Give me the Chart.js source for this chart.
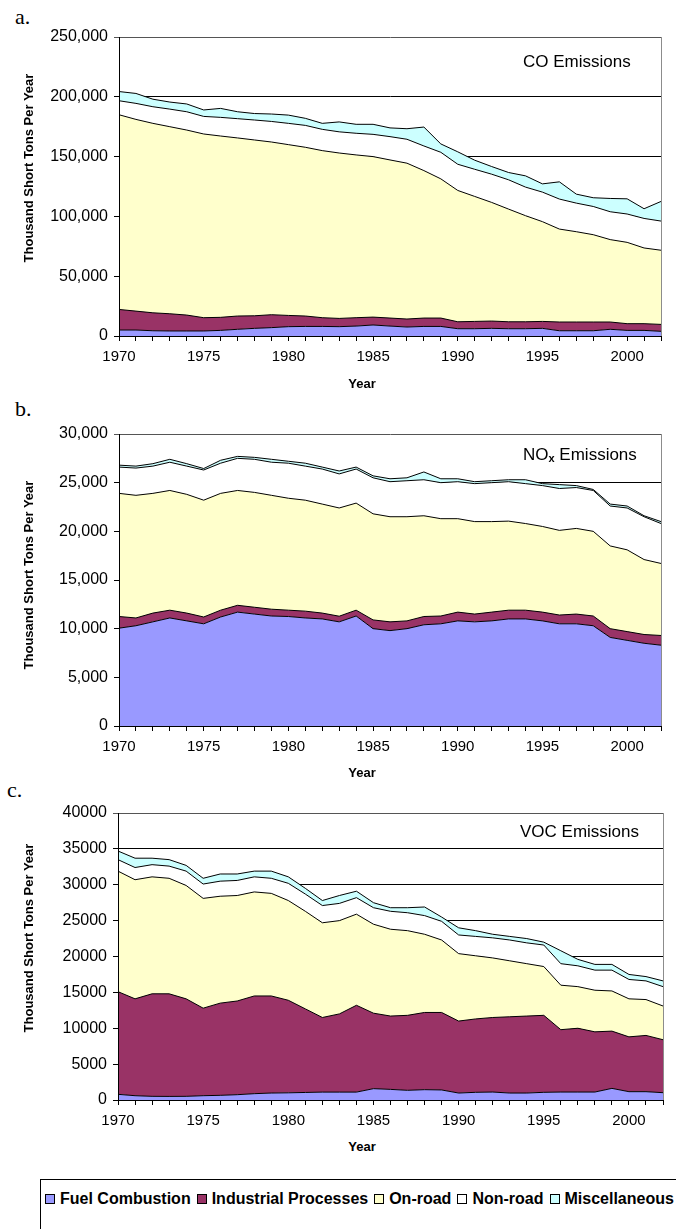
<!DOCTYPE html>
<html>
<head>
<meta charset="utf-8">
<title>Emissions</title>
<script src="https://cdn.jsdelivr.net/npm/chart.js@4.4.1/dist/chart.umd.min.js"></script>
<style>
	body { margin: 0; background: #fff; width: 676px; height: 1229px; overflow: hidden; position: relative; font-family: "Liberation Sans", Arial, sans-serif; color: #000; }
	canvas { position: absolute; left: 0; }
	.letter { position: absolute; font-family: "Liberation Serif", "Times New Roman", serif; font-size: 22px; line-height: 1; }
	.ytitle { position: absolute; font-weight: bold; font-size: 13px; line-height: 1; white-space: nowrap; transform: translate(-50%, -50%) rotate(-90deg); }
	.xtitle { position: absolute; font-weight: bold; font-size: 13px; line-height: 1; transform: translateX(-50%); }
	.name { position: absolute; font-size: 17px; line-height: 1; white-space: nowrap; }
	.name sub { font-size: 11px; vertical-align: -2px; font-weight: bold; }
	#legend { position: absolute; left: 40px; top: 1179px; width: 700px; height: 80px; border: 1px solid #000; box-sizing: border-box; }
	#legend .row { position: absolute; left: 4px; top: 10px; display: flex; align-items: center; white-space: nowrap; font-weight: bold; font-size: 16px; line-height: 18px; }
	#legend .key { display: flex; align-items: center; margin-right: 6px; }
	#legend .swatch { width: 8px; height: 8px; border: 1px solid #000; margin-right: 5px; }
</style>
</head>
<body>

<div class="letter" style="left:15px; top:6px;">a.</div>
<div class="letter" style="left:15px; top:398px;">b.</div>
<div class="letter" style="left:7px; top:779px;">c.</div>

<canvas id="chart-co" width="676" height="372" style="top:0px;"></canvas>
<canvas id="chart-nox" width="676" height="390" style="top:372px;"></canvas>
<canvas id="chart-voc" width="676" height="376" style="top:762px;"></canvas>

<div class="ytitle" style="left:28px; top:168px;">Thousand Short Tons Per Year</div>
<div class="ytitle" style="left:28px; top:575px;">Thousand Short Tons Per Year</div>
<div class="ytitle" style="left:28px; top:938px;">Thousand Short Tons Per Year</div>

<div class="xtitle" style="left:362px; top:377px;">Year</div>
<div class="xtitle" style="left:362px; top:766px;">Year</div>
<div class="xtitle" style="left:362px; top:1140px;">Year</div>

<div class="name" style="left:523px; top:53px;">CO Emissions</div>
<div class="name" style="left:523px; top:446px;">NO<sub>x</sub> Emissions</div>
<div class="name" style="left:520px; top:823px;">VOC Emissions</div>

<div id="legend"><div class="row"></div></div>

<script>
// categories
var years = ['1970', '1971', '1972', '1973', '1974', '1975', '1976', '1977', '1978', '1979',
	'1980', '1981', '1982', '1983', '1984', '1985', '1986', '1987', '1988', '1989',
	'1990', '1991', '1992', '1993', '1994', '1995', '1996', '1997', '1998', '1999',
	'2000', '2001', '2002'];

var sourceNames = ['Fuel Combustion', 'Industrial Processes', 'On-road', 'Non-road', 'Miscellaneous'];
var sourceColors = ['#9999FF', '#993366', '#FFFFCC', '#FFFFFF', '#CCFFFF'];

// CO, thousand short tons per year
var coFuel = [5000, 5000, 4400, 4200, 4200, 4200, 4700, 5600, 6400, 7000, 7800, 8000, 8000, 7800, 8300, 9200, 8300, 7500, 8000, 8000, 6100, 6100, 6400, 6100, 6100, 6400, 4400, 4400, 4400, 5600, 4700, 4700, 3900];
var coIndustrial = [17200, 15800, 15000, 14400, 13300, 11100, 10900, 11100, 10500, 10800, 9400, 8700, 7300, 6900, 7000, 6600, 6700, 6700, 7000, 7000, 5800, 6100, 6100, 5800, 5800, 5800, 7300, 7300, 7300, 6100, 5600, 5600, 5800];
var coOnRoad = [162800, 160300, 158400, 156400, 154700, 153600, 151600, 148900, 147000, 144400, 142800, 141100, 139700, 138300, 136100, 134200, 132200, 130300, 123300, 116400, 109800, 104500, 99200, 94200, 88700, 83400, 77700, 75500, 73000, 68900, 68000, 63300, 62000];
var coNonRoad = [11700, 13400, 13900, 14700, 15300, 14700, 15600, 16100, 16700, 17200, 17800, 18300, 17800, 17700, 18100, 18600, 19500, 20000, 20600, 22200, 21900, 22700, 23600, 24500, 23900, 24700, 25100, 23900, 23600, 23300, 23700, 24700, 24400];
var coMisc = [7700, 8300, 6300, 5900, 6500, 5400, 7500, 5800, 5400, 6200, 6900, 5900, 5000, 8300, 7500, 8400, 7300, 8800, 15800, 7000, 10400, 7600, 6400, 6100, 9400, 6900, 14400, 7500, 7300, 11100, 12700, 8100, 16400];

// NOx
var noxFuel = [10050, 10300, 10700, 11100, 10800, 10500, 11200, 11700, 11500, 11300, 11250, 11100, 11000, 10700, 11300, 10000, 9800, 10000, 10400, 10500, 10800, 10700, 10800, 11000, 11000, 10800, 10500, 10500, 10300, 9100, 8800, 8500, 8300];
var noxIndustrial = [1200, 800, 900, 800, 800, 700, 700, 700, 700, 700, 650, 700, 600, 580, 600, 900, 900, 800, 850, 800, 900, 800, 900, 900, 900, 900, 900, 1000, 1000, 900, 900, 900, 1000];
var noxOnRoad = [12650, 12600, 12300, 12300, 12200, 12000, 12000, 11800, 11800, 11700, 11500, 11400, 11200, 11120, 11000, 10900, 10800, 10700, 10350, 10000, 9600, 9500, 9300, 9150, 8900, 8800, 8700, 8800, 8700, 8500, 8400, 7700, 7400];
var noxNonRoad = [2700, 2800, 2800, 2900, 2900, 3100, 3100, 3300, 3400, 3400, 3600, 3500, 3600, 3500, 3500, 3700, 3600, 3700, 3700, 3700, 3800, 3900, 4000, 4050, 4100, 4200, 4300, 4200, 4200, 4100, 4300, 4400, 4100];
var noxMisc = [200, 200, 250, 300, 250, 150, 300, 200, 200, 300, 200, 300, 200, 300, 200, 200, 300, 300, 800, 400, 300, 200, 200, 200, 400, 200, 400, 200, 100, 200, 200, 100, 200];

// VOC
var vocFuel = [790, 600, 510, 500, 510, 600, 650, 740, 880, 970, 1000, 1050, 1100, 1100, 1100, 1580, 1480, 1350, 1440, 1400, 970, 1070, 1110, 970, 970, 1070, 1110, 1110, 1110, 1620, 1160, 1160, 1020];
var vocIndustrial = [14310, 13500, 14290, 14300, 13590, 12200, 12850, 13060, 13620, 13530, 12900, 11650, 10400, 10900, 12100, 10520, 10220, 10450, 10760, 10800, 10030, 10230, 10390, 10630, 10730, 10730, 8690, 8890, 8390, 7980, 7640, 7840, 7380];
var vocOnRoad = [16800, 16600, 16300, 16100, 15800, 15300, 14900, 14700, 14500, 14300, 13900, 13600, 13200, 13000, 12700, 12400, 12100, 11800, 10900, 10100, 9400, 8800, 8300, 7800, 7300, 6800, 6200, 5800, 5800, 5600, 5300, 5000, 4700];
var vocNonRoad = [1600, 1700, 1700, 1700, 2000, 2000, 2100, 2100, 2100, 2100, 2400, 2400, 2400, 2400, 2300, 2300, 2500, 2500, 2600, 2600, 2600, 2700, 2800, 2900, 2900, 3000, 3000, 2900, 2800, 2900, 2700, 2600, 2700];
var vocMisc = [1200, 1300, 900, 900, 800, 800, 1000, 900, 800, 1000, 900, 800, 700, 1100, 900, 700, 500, 700, 1200, 600, 1000, 800, 500, 500, 600, 400, 1800, 900, 800, 800, 700, 600, 800];

Chart.defaults.font.family = '"Liberation Sans", Arial, sans-serif';
Chart.defaults.color = '#000';

// gray right edge of the plot area, excel style
var plotFrame = {
	id: 'plotFrame',
	afterDraw: function(chart) {
		var area = chart.chartArea;
		var ctx = chart.ctx;
		ctx.save();
		ctx.strokeStyle = '#8c8c8c';
		ctx.lineWidth = 1;
		ctx.beginPath();
		ctx.moveTo(area.right + 0.5, area.top);
		ctx.lineTo(area.right + 0.5, area.bottom);
		ctx.stroke();
		ctx.restore();
	}
};

// one stacked area chart. box gives the plot area inside the canvas
function makeAreaChart(id, series, yMax, yStep, commas, box) {
	var canvas = document.getElementById(id);
	var datasets = [];
	for (var i = 0; i < series.length; i++) {
		datasets.push({
			label: sourceNames[i],
			data: series[i],
			backgroundColor: sourceColors[i],
			borderColor: '#000',
			borderWidth: 1,
			pointRadius: 0,
			tension: 0,
			fill: i === 0 ? 'origin' : '-1'
		});
	}

	return new Chart(canvas, {
		type: 'line',
		data: { labels: years, datasets: datasets },
		plugins: [plotFrame],
		options: {
			responsive: false,
			animation: false,
			devicePixelRatio: 1,
			layout: {
				padding: { top: box.top, right: canvas.width - box.right, left: 0, bottom: 0 }
			},
			plugins: {
				legend: { display: false },
				tooltip: { enabled: false }
			},
			scales: {
				x: {
					offset: false,
					grid: { drawOnChartArea: false, drawTicks: true, tickLength: 5, color: '#000' },
					border: { color: '#000', width: 1, z: 1 },
					ticks: {
						autoSkip: false,
						maxRotation: 0,
						padding: 7,
						font: { size: 15 },
						callback: function(value, index) {
							var y = years[index];
							return (parseInt(y, 10) % 5 === 0) ? y : '';
						}
					},
					afterFit: function(scale) { scale.height = canvas.height - box.bottom; }
				},
				y: {
					stacked: true,
					min: 0,
					max: yMax,
					grid: {
						tickLength: 5,
						color: function(ctx) { return ctx.tick && ctx.tick.value === yMax ? '#555' : '#000'; }
					},
					border: { color: '#000', width: 1, z: 1 },
					ticks: {
						stepSize: yStep,
						padding: 6,
						font: { size: 16 },
						callback: function(value) { return commas ? value.toLocaleString('en-US') : String(value); }
					},
					afterFit: function(scale) { scale.width = box.left; }
				}
			}
		}
	});
}

makeAreaChart('chart-co', [coFuel, coIndustrial, coOnRoad, coNonRoad, coMisc], 250000, 50000, true,
	{ left: 119, right: 661, top: 37, bottom: 336 });
makeAreaChart('chart-nox', [noxFuel, noxIndustrial, noxOnRoad, noxNonRoad, noxMisc], 30000, 5000, true,
	{ left: 119, right: 661, top: 62, bottom: 354 });
makeAreaChart('chart-voc', [vocFuel, vocIndustrial, vocOnRoad, vocNonRoad, vocMisc], 40000, 5000, false,
	{ left: 118, right: 663, top: 51, bottom: 338 });

// shared legend under the three charts
var row = document.querySelector('#legend .row');
for (var i = 0; i < sourceNames.length; i++) {
	var key = document.createElement('span');
	key.className = 'key';
	var swatch = document.createElement('span');
	swatch.className = 'swatch';
	swatch.style.background = sourceColors[i];
	key.appendChild(swatch);
	key.appendChild(document.createTextNode(sourceNames[i]));
	row.appendChild(key);
}
</script>
</body>
</html>
